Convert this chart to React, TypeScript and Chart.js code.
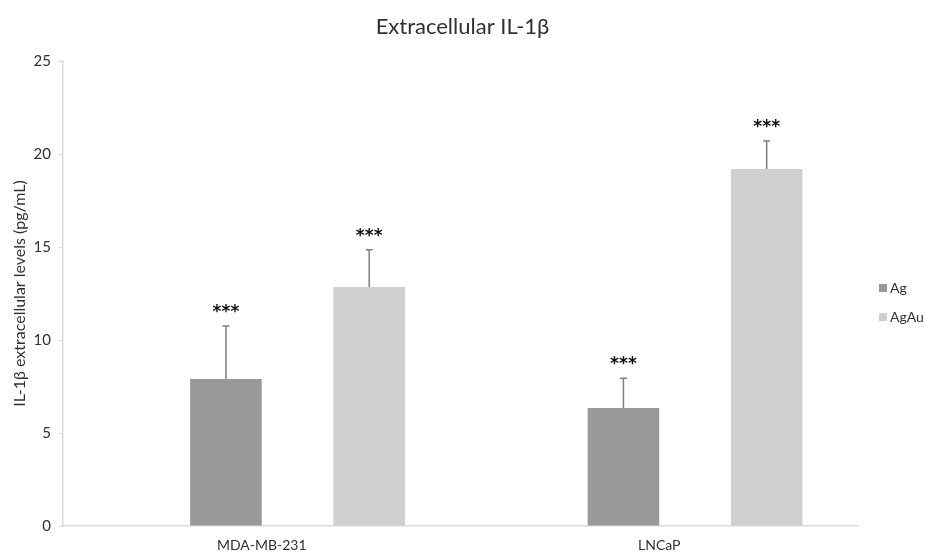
import React, { useEffect, useRef } from "react";
import { Chart, registerables } from "chart.js";

Chart.register(...registerables);

const categories = ["MDA-MB-231", "LNCaP"];
const seriesNames = ["Ag", "AgAu"];
const agValues = [7.9, 6.35];
const agErrors = [2.85, 1.6];
const agauValues = [12.85, 19.2];
const agauErrors = [2.0, 1.5];
const agStars = ["***", "***"];
const agauStars = ["***", "***"];
const yTickMin = 0;
const yTickMax = 25;
const yTickStep = 5;

const FONT = "Lato, 'Noto Sans', sans-serif";
const TEXT = "#303030";
const AXIS = "#d9d9d9";

const errorBarPlugin = {
  id: "errorBars",
  afterDatasetsDraw(chart: any) {
    const ctx = chart.ctx;
    const yScale = chart.scales.y;
    chart.data.datasets.forEach((ds: any, di: number) => {
      if (!ds.errors) return;
      const meta = chart.getDatasetMeta(di);
      meta.data.forEach((bar: any, i: number) => {
        const v = ds.data[i];
        if (v == null) return;
        const yBase = yScale.getPixelForValue(v);
        const yTop = yScale.getPixelForValue(v + ds.errors[i]);
        ctx.save();
        ctx.strokeStyle = "#7f7f7f";
        ctx.lineWidth = 1.5;
        ctx.beginPath();
        ctx.moveTo(bar.x, yBase);
        ctx.lineTo(bar.x, yTop);
        ctx.moveTo(bar.x - 3.5, yTop);
        ctx.lineTo(bar.x + 3.5, yTop);
        ctx.stroke();
        ctx.fillStyle = "#111";
        ctx.font = `bold 17px 'DejaVu Sans', sans-serif`;
        ctx.textAlign = "center";
        ctx.textBaseline = "alphabetic";
        ctx.fillText(ds.stars[i], bar.x, yTop - 9);
        ctx.restore();
      });
    });
  },
};

const legendPlugin = {
  id: "sideLegend",
  afterDraw(chart: any) {
    const ctx = chart.ctx;
    const items = chart.data.datasets.filter((d: any) => d.label);
    items.forEach((d: any, i: number) => {
      const cy = 288 + i * 29;
      ctx.save();
      ctx.fillStyle = d.backgroundColor;
      ctx.fillRect(879, cy - 4, 8, 8);
      ctx.fillStyle = TEXT;
      ctx.font = `14px ${FONT}`;
      ctx.textAlign = "left";
      ctx.textBaseline = "middle";
      ctx.fillText(d.label, 890, cy);
      ctx.restore();
    });
  },
};

export default function App() {
  const ref = useRef<HTMLCanvasElement>(null);
  useEffect(() => {
    if (!ref.current) return;
    const spacer = { label: "", data: categories.map(() => null), backgroundColor: "rgba(0,0,0,0)" };
    const chart = new Chart(ref.current, {
      type: "bar",
      data: {
        labels: categories,
        datasets: [
          { ...spacer },
          {
            label: seriesNames[0],
            data: agValues,
            backgroundColor: "#999999",
            errors: agErrors,
            stars: agStars,
          } as any,
          { ...spacer },
          {
            label: seriesNames[1],
            data: agauValues,
            backgroundColor: "#d0d0d0",
            errors: agauErrors,
            stars: agauStars,
          } as any,
        ],
      },
      options: {
        responsive: false,
        animation: false,
        layout: { padding: 0 },
        datasets: { bar: { categoryPercentage: 0.7208, barPercentage: 1.0 } },
        plugins: {
          legend: { display: false },
          tooltip: { enabled: false },
          title: {
            display: true,
            text: "Extracellular IL-1β",
            color: TEXT,
            font: { family: FONT, size: 22, weight: "normal" },
            padding: { top: 14, bottom: 20.6 },
          },
        },
        scales: {
          x: {
            grid: { display: true, drawOnChartArea: false, drawTicks: false, color: AXIS },
            border: { color: AXIS, width: 1.5 },
            ticks: { color: TEXT, font: { family: FONT, size: 14 }, padding: 11 },
            afterFit: (s: any) => {
              s.height = 26;
            },
          },
          y: {
            min: yTickMin,
            max: yTickMax,
            ticks: { stepSize: yTickStep, color: TEXT, font: { family: FONT, size: 15 }, padding: 8 },
            grid: { display: true, drawOnChartArea: false, drawTicks: true, tickLength: 4, color: AXIS },
            border: { color: AXIS, width: 1.5 },
            title: {
              display: true,
              text: "IL-1β extracellular levels (pg/mL)",
              color: TEXT,
              font: { family: FONT, size: 16 },
              padding: 10,
            },
            afterFit: (s: any) => {
              s.width = 63;
            },
          },
          yRight: {
            position: "right",
            display: true,
            grid: { display: false },
            border: { display: false },
            ticks: { display: false },
            afterFit: (s: any) => {
              s.width = 67;
            },
          },
        },
      } as any,
      plugins: [errorBarPlugin, legendPlugin],
    });
    return () => chart.destroy();
  }, []);
  return (
    <div style={{ position: "absolute", left: 0, top: 0, width: 925, height: 552, background: "#fff" }}>
      <canvas ref={ref} width={925} height={552} />
    </div>
  );
}
